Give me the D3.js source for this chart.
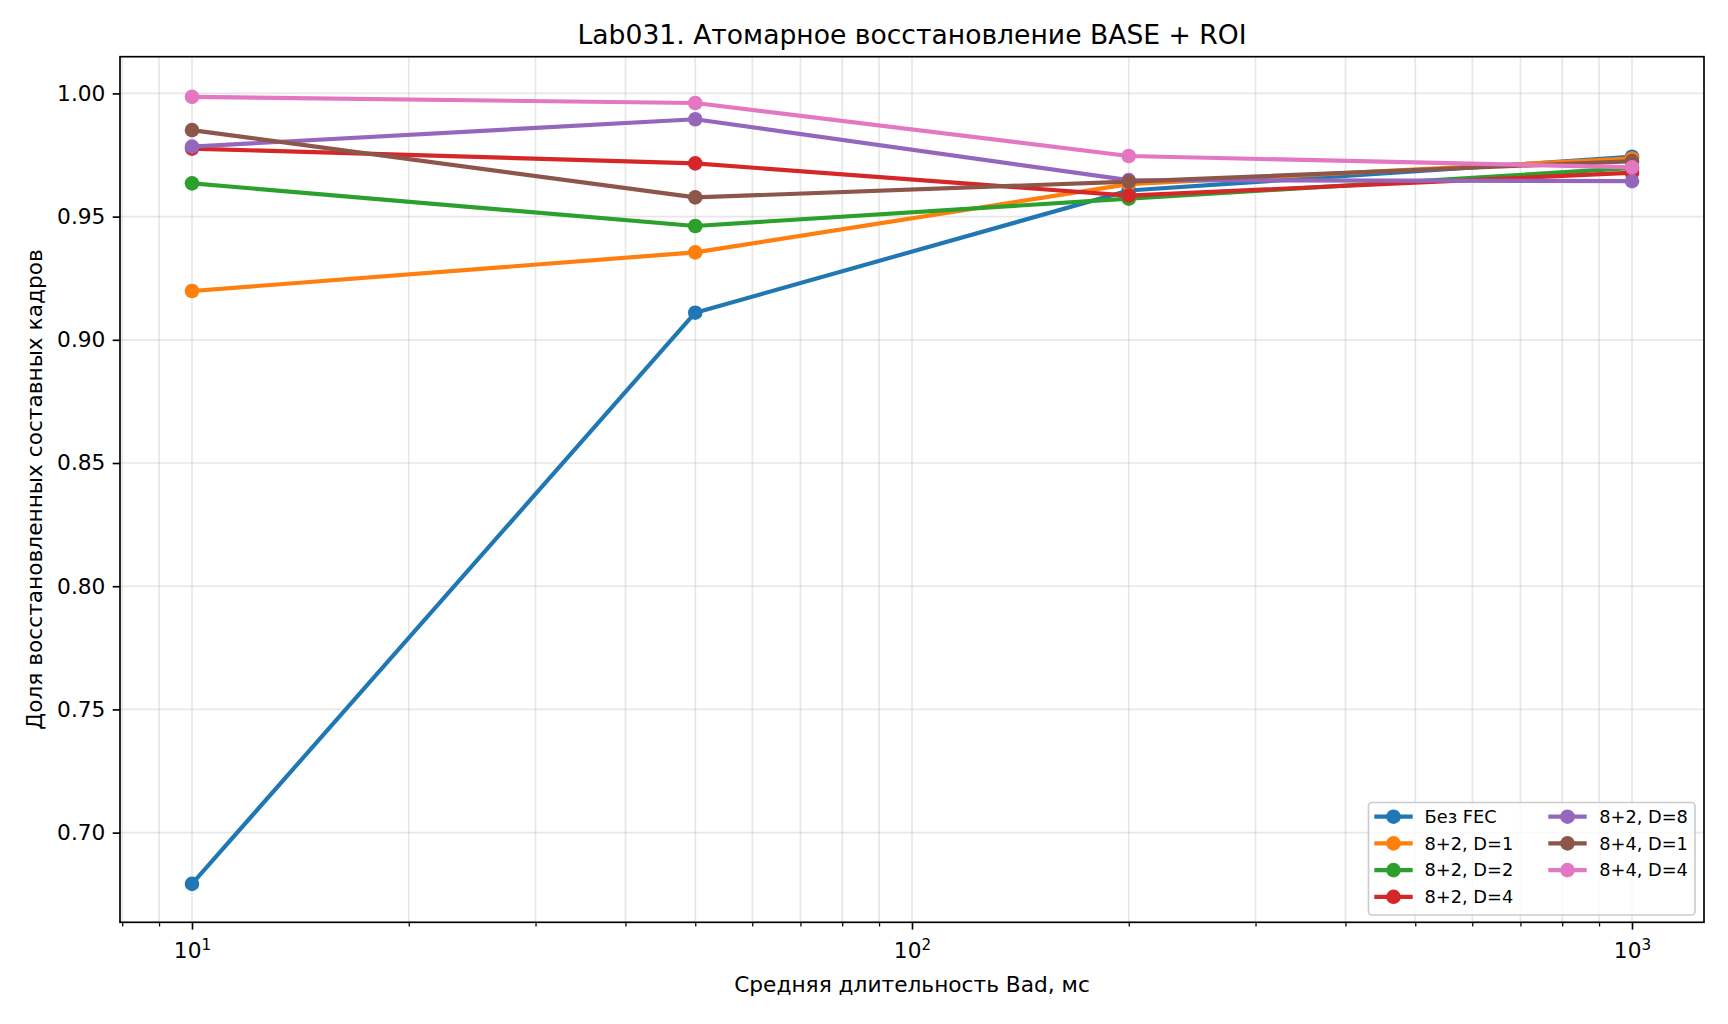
<!DOCTYPE html>
<html>
<head>
<meta charset="utf-8">
<script src="https://cdn.jsdelivr.net/npm/d3@7/dist/d3.min.js"></script>
<style>
  html, body { margin: 0; padding: 0; background: #fff; }
  svg { display: block; }
  text { font-family: "DejaVu Sans", sans-serif; fill: #000; }
</style>
</head>
<body>
<svg id="chart" width="1728" height="1024"></svg>
<script>
// ---- data ----
const xValues = [10, 50, 200, 1000];
const seriesNames = ["Без FEC", "8+2, D=1", "8+2, D=2", "8+2, D=4", "8+2, D=8", "8+4, D=1", "8+4, D=4"];
const noFec   = [0.6792, 0.9110, 0.9606, 0.9743];
const fec82d1 = [0.9198, 0.9355, 0.9632, 0.9736];
const fec82d2 = [0.9635, 0.9462, 0.9573, 0.9697];
const fec82d4 = [0.9776, 0.9716, 0.9585, 0.9678];
const fec82d8 = [0.9784, 0.9895, 0.9648, 0.9644];
const fec84d1 = [0.9851, 0.9578, 0.9642, 0.9725];
const fec84d4 = [0.9986, 0.9961, 0.9746, 0.9700];
const seriesValues = [noFec, fec82d1, fec82d2, fec82d4, fec82d8, fec84d1, fec84d4];
const colors = ["#1f77b4", "#ff7f0e", "#2ca02c", "#d62728", "#9467bd", "#8c564b", "#e377c2"];
const yTicks = [0.70, 0.75, 0.80, 0.85, 0.90, 0.95, 1.00];
const xMajorTicks = [10, 100, 1000];
const xMinorTicks = [8, 9, 20, 30, 40, 50, 60, 70, 80, 90, 200, 300, 400, 500, 600, 700, 800, 900];
const titleText = "Lab031. Атомарное восстановление BASE + ROI";
const xLabelText = "Средняя длительность Bad, мс";
const yLabelText = "Доля восстановленных составных кадров";

// ---- layout ----
const L = 120, R = 1704, T = 56.7, B = 922.3;
const FS = 21.7, FS_TITLE = 26.6, FS_LEG = 17.8;
const svg = d3.select("#chart");

const x = d3.scaleLog().domain([Math.pow(10, 0.9), Math.pow(10, 3.1)]).range([L, R]);
const y = d3.scaleLinear().domain([0.6636, 1.0149]).range([B, T]);

// grid
const grid = svg.append("g").attr("stroke", "#b0b0b0").attr("stroke-opacity", 0.3).attr("stroke-width", 1.67);
[...xMajorTicks, ...xMinorTicks].forEach(v => {
  grid.append("line").attr("x1", x(v)).attr("x2", x(v)).attr("y1", T).attr("y2", B);
});
yTicks.forEach(v => {
  grid.append("line").attr("x1", L).attr("x2", R).attr("y1", y(v)).attr("y2", y(v));
});

// series
const lineGen = d3.line().x((d, i) => x(xValues[i])).y(d => y(d));
seriesValues.forEach((vals, s) => {
  const g = svg.append("g");
  g.append("path").attr("d", lineGen(vals)).attr("fill", "none")
    .attr("stroke", colors[s]).attr("stroke-width", 4.17).attr("stroke-linejoin", "round").attr("stroke-linecap", "square");
  vals.forEach((v, i) => {
    g.append("circle").attr("cx", x(xValues[i])).attr("cy", y(v)).attr("r", 7.3).attr("fill", colors[s]);
  });
});

// axes using d3 axis generators
const yAxis = d3.axisLeft(y).tickValues(yTicks).tickFormat(d3.format(".2f")).tickSizeOuter(0).tickSize(7.3).tickPadding(7.3);
const yg = svg.append("g").attr("transform", `translate(${L},0)`).call(yAxis);
yg.select(".domain").remove();
yg.selectAll(".tick line").attr("stroke", "#000").attr("stroke-width", 1.67);
yg.selectAll(".tick text").attr("font-size", FS).attr("font-family", "DejaVu Sans").attr("fill", "#000");

const xAxisMinor = d3.axisBottom(x).tickValues(xMinorTicks).tickFormat("").tickSizeOuter(0).tickSize(4.2);
const xgm = svg.append("g").attr("transform", `translate(0,${B})`).call(xAxisMinor);
xgm.select(".domain").remove();
xgm.selectAll(".tick line").attr("stroke", "#000").attr("stroke-width", 1.25);

const xAxis = d3.axisBottom(x).tickValues(xMajorTicks).tickFormat("").tickSizeOuter(0).tickSize(7.3);
const xg = svg.append("g").attr("transform", `translate(0,${B})`).call(xAxis);
xg.select(".domain").remove();
xg.selectAll(".tick line").attr("stroke", "#000").attr("stroke-width", 1.67);
xg.selectAll(".tick").each(function(d) {
  const t = d3.select(this).append("text").attr("y", 958.5 - B).attr("text-anchor", "middle")
    .attr("font-size", FS).attr("fill", "#000").attr("font-family", "DejaVu Sans");
  t.append("tspan").text("10");
  t.append("tspan").attr("dy", -8.8).attr("font-size", 15.2).text(String(Math.round(Math.log10(d))));
});

// spines
svg.append("rect").attr("x", L).attr("y", T).attr("width", R - L).attr("height", B - T)
  .attr("fill", "none").attr("stroke", "#000").attr("stroke-width", 1.67);

// title & labels
svg.append("text").attr("x", (L + R) / 2).attr("y", 43.5).attr("text-anchor", "middle")
  .attr("font-size", FS_TITLE).text(titleText);
svg.append("text").attr("x", (L + R) / 2).attr("y", 991.5).attr("text-anchor", "middle")
  .attr("font-size", FS).text(xLabelText);
svg.append("text").attr("transform", `translate(42,${(T + B) / 2}) rotate(-90)`).attr("text-anchor", "middle")
  .attr("font-size", FS).text(yLabelText);

// legend
const lg = svg.append("g");
lg.append("rect").attr("x", 1368.5).attr("y", 802.5).attr("width", 326.5).attr("height", 112.5)
  .attr("rx", 3.5).attr("ry", 3.5).attr("fill", "#fff").attr("fill-opacity", 0.8)
  .attr("stroke", "#cccccc").attr("stroke-width", 1.67);
const colDefs = [{ x1: 1374.3, x2: 1412.7, tx: 1424.5 }, { x1: 1548.3, x2: 1586.7, tx: 1599.2 }];
seriesNames.forEach((name, i) => {
  const col = i < 4 ? 0 : 1;
  const row = i < 4 ? i : i - 4;
  const cy = 816.7 + row * 26.7;
  const c = colDefs[col];
  lg.append("line").attr("x1", c.x1).attr("x2", c.x2).attr("y1", cy).attr("y2", cy)
    .attr("stroke", colors[i]).attr("stroke-width", 4.17);
  lg.append("circle").attr("cx", (c.x1 + c.x2) / 2).attr("cy", cy).attr("r", 7.3).attr("fill", colors[i]);
  lg.append("text").attr("x", c.tx).attr("y", cy + 6.3).attr("font-size", FS_LEG).text(name);
});
</script>
</body>
</html>
